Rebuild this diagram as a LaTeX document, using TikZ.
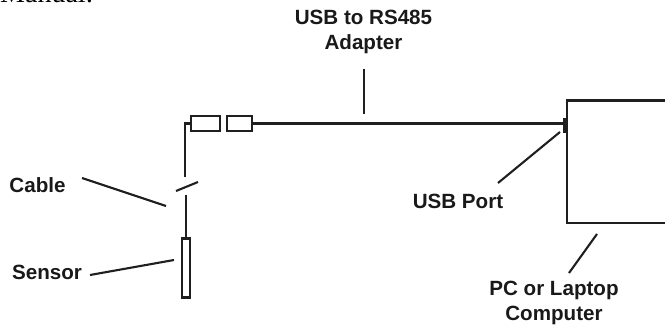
\documentclass[tikz,border=0pt]{standalone}
\usepackage{fontspec}
\setmainfont{Liberation Sans}
\newfontfamily\serifcut{Liberation Serif}
\tikzset{
  x=1pt,y=-1pt,
  lab/.style={font=\bfseries\fontsize{20.6}{24.5}\selectfont,align=center,inner sep=0pt,text=black!90},
  ln/.style={draw=black!88,line width=2.1pt},
  boxed/.style={draw=black!88,line width=2.3pt,inner sep=0pt},
}
\begin{document}
\begin{tikzpicture}
\useasboundingbox (0,0) rectangle (665,326);
\clip (0,0) rectangle (665,326);
\node[inner sep=0pt,anchor=base west] (man) at (0,3) {\serifcut\fontsize{28}{30}\selectfont Manual:};
\node[lab] (adapter) at (363.5,32) {USB to RS485\\Adapter};
\node[lab] (cable) at (37.5,185) {Cable};
\node[lab] (sensor) at (47,272) {Sensor};
\node[lab] (port) at (458,201) {USB Port};
\node[lab] (pc) at (554,303) {PC or Laptop\\Computer};
\node[boxed,minimum width=29pt,minimum height=15pt] (b1) at (205.5,123.5) {};
\node[boxed,minimum width=25pt,minimum height=15pt] (b2) at (239.5,123.5) {};
\node[boxed,minimum width=7.5pt,minimum height=59pt] (s) at (186,268) {};
\coordinate (pcNW) at (567,100.5);
\coordinate (pcNE) at (665,100.5);
\coordinate (pcSW) at (567,223);
\coordinate (pcSE) at (665,223);
\draw[ln] (pcNE) -- (pcNW) -- (pcSW) -- (pcSE);
\node[fill=black!88,minimum width=4.5pt,minimum height=15pt,inner sep=0pt] (usb) at (565,125.5) {};
\coordinate (usbin) at (usb.west |- b2.east);
\draw[ln] (b2.east) -- (usbin);
\draw[ln] (b1.west) -- (185.3,123.5) -- (185.3,177);
\coordinate (sl1) at (176,191); \coordinate (sl2) at (198,182);
\draw[ln] (sl1) -- (sl2);
\coordinate (lo) at (186,195);
\draw[ln] (lo) -- (s.north);
\coordinate (ca) at (82,178); \coordinate (cb) at (166,206);
\draw[ln] (ca) -- (cb);
\coordinate (sa) at (90,275); \coordinate (sb) at (174,260);
\draw[ln] (sa) -- (sb);
\coordinate (ada) at (364,69); \coordinate (adb) at (364,114);
\draw[ln] (ada) -- (adb);
\coordinate (pa) at (498,183); \coordinate (pb) at (560,132);
\draw[ln] (pa) -- (pb);
\coordinate (qa) at (597,234); \coordinate (qb) at (569,273);
\draw[ln] (qa) -- (qb);
\end{tikzpicture}
\end{document}
